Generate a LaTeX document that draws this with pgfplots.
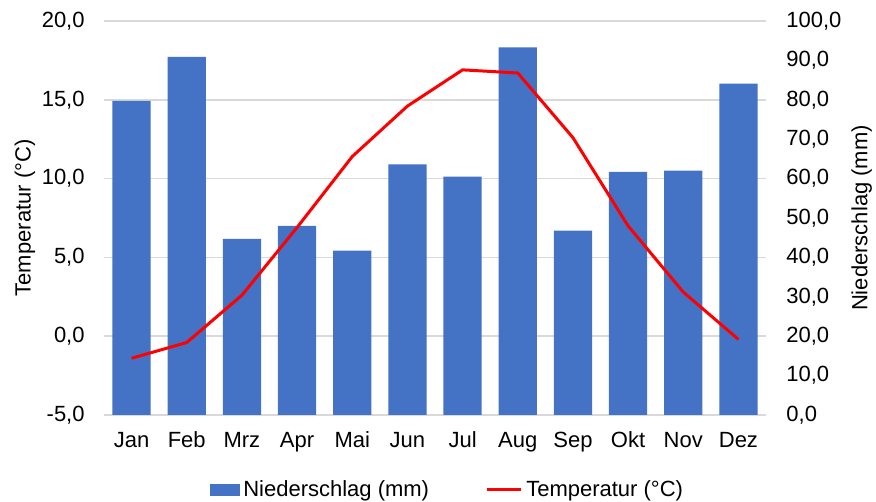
\documentclass[border=0pt]{standalone}
\usepackage{fontspec}
\setmainfont{Liberation Sans}
\usepackage{pgfplots}
\usepackage{pgfplotstable}
\pgfplotsset{compat=1.18}

\definecolor{barblue}{HTML}{4472C4}
\definecolor{gridgray}{HTML}{D9D9D9}

% Monat, Niederschlag (mm), Temperatur (°C)
\pgfplotstableread{
m  prec  temp
0  79.7  -1.4
1  90.9  -0.4
2  44.7   2.6
3  48.0   6.9
4  41.7  11.4
5  63.6  14.6
6  60.5  16.9
7  93.3  16.7
8  46.8  12.6
9  61.7   7.0
10 62.0   2.8
11 84.1  -0.2
}\klima

\pgfplotsset{
  klimabase/.style={
    scale only axis, width=331pt, height=197pt,
    xmin=-0.5, xmax=11.5,
    axis line style={draw=none}, tick style={draw=none},
    ticklabel style={font=\fontsize{11}{13}\selectfont},
    label style={font=\fontsize{11}{13}\selectfont},
    /pgf/number format/fixed,
    /pgf/number format/fixed zerofill,
    /pgf/number format/precision=1,
    /pgf/number format/use comma,
    /pgf/number format/assume math mode=true,
  },
}

\begin{document}
\begin{tikzpicture}
% linke Achse mit Gitter
\begin{axis}[klimabase, name=ax,
  ymin=-5, ymax=20, ytick={-5,0,...,20},
  ymajorgrids, grid style={gridgray, line width=0.8pt},
  xtick={0,...,11},
  xticklabels={Jan,Feb,Mrz,Apr,Mai,Jun,Jul,Aug,Sep,Okt,Nov,Dez},
  xticklabel style={anchor=base, yshift=-16.5pt},
  yticklabel style={anchor=east, inner sep=0pt, xshift=-9.5pt},
  ylabel={Temperatur (°C)},
  ylabel style={at={(axis description cs:0,0.5)}, anchor=center, yshift=39.5pt},
]
\end{axis}
% Niederschlag, rechte Achse
\begin{axis}[klimabase,
  ymin=0, ymax=100, ytick={0,10,...,100},
  axis y line*=right, axis x line=none,
  xtick=\empty,
  yticklabel style={anchor=west, inner sep=0pt, xshift=10pt},
  ylabel={Niederschlag (mm)},
  ylabel style={at={(axis description cs:1,0.5)}, anchor=center, yshift=-47.8pt},
  ybar, bar width=19.15pt,
]
\addplot[fill=barblue, draw=none] table[x=m, y=prec] {\klima};
\end{axis}
% Temperatur, Linie oben drauf
\begin{axis}[klimabase,
  ymin=-5, ymax=20, hide axis,
  legend columns=2,
  legend style={draw=none, at={(0.52,-0.19)}, anchor=center,
    font=\fontsize{11}{13}\selectfont,
    /tikz/every even column/.append style={column sep=26pt}},
]
\addlegendimage{legend image code/.code={\fill[barblue] (0pt,-2.8pt) rectangle (14.5pt,2.8pt);}}
\addlegendentry{Niederschlag (mm)}
\addplot[red, line width=1.5pt, line join=round] table[x=m, y=temp] {\klima};
\addlegendentry{Temperatur (°C)}
\end{axis}
\pgfresetboundingbox
\path[use as bounding box] ([shift={(-52pt,-43.5pt)}]ax.south west) rectangle ([shift={(55pt,10.5pt)}]ax.north east);
\end{tikzpicture}
\end{document}
